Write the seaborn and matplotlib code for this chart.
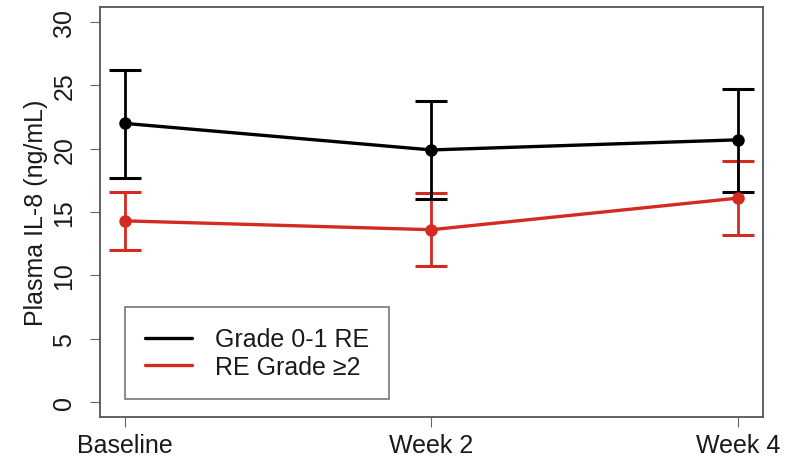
import numpy as np
import pandas as pd
import matplotlib
matplotlib.use("Agg")
import matplotlib.pyplot as plt
from matplotlib.lines import Line2D
import seaborn as sns

# values
timepoints = ["Baseline", "Week 2", "Week 4"]
groups = ["Grade 0-1 RE", "RE Grade \u22652"]

mean_low = [22.0, 19.9, 20.7]      # Grade 0-1 RE
upper_low = [26.2, 23.8, 24.7]
lower_low = [17.7, 16.0, 16.6]

mean_high = [14.3, 13.6, 16.1]     # RE Grade >=2
upper_high = [16.6, 16.5, 19.0]
lower_high = [12.0, 10.7, 13.2]

colors = {"Grade 0-1 RE": "black", "RE Grade \u22652": "#D42A20"}

sns.set_style("ticks")
plt.rcParams["font.family"] = ["Liberation Sans", "DejaVu Sans"]

pos = np.arange(1, len(timepoints) + 1)
data = pd.DataFrame({
    "x": np.concatenate([pos, pos]),
    "value": mean_low + mean_high,
    "group": [groups[0]] * 3 + [groups[1]] * 3,
})

fig = plt.figure(figsize=(7.87, 4.64), dpi=100)
ax = fig.add_axes([0.127, 0.099, 0.8425, 0.884])

err_sets = [(groups[1], mean_high, lower_high, upper_high),
            (groups[0], mean_low, lower_low, upper_low)]
for g, m, lo, hi in err_sets:
    m = np.array(m)
    ax.errorbar(pos, m, yerr=[m - np.array(lo), np.array(hi) - m], fmt="none",
                ecolor=colors[g], elinewidth=2.0, capsize=11.5, capthick=2.2,
                zorder=2)

sns.lineplot(data=data, x="x", y="value", hue="group", hue_order=groups[::-1],
             palette=colors, marker="o", markersize=9, markeredgewidth=0,
             linewidth=2.4, legend=False, ax=ax, zorder=3)

ax.set_xlim(0.92, 3.08)
ax.set_ylim(-1.2, 31.2)
ax.set_xticks(pos)
ax.set_xticklabels(timepoints)
ax.set_yticks(np.arange(0, 31, 5))
ax.set_xlabel("")
ax.set_ylabel("Plasma IL-8 (ng/mL)", fontsize=18, labelpad=3)

ax.tick_params(axis="both", labelsize=18, length=7, width=0.8, color="#666666",
               labelcolor="#1a1a1a")
ax.tick_params(axis="x", pad=4.5)
ax.tick_params(axis="y", pad=10, labelrotation=90)
for lab in ax.get_yticklabels():
    lab.set_va("center")
ax.yaxis.label.set_color("#1a1a1a")

for sp in ax.spines.values():
    sp.set_visible(True)
    sp.set_color("#555555")
    sp.set_linewidth(1.3)

handles = [Line2D([0], [0], color=colors[g], lw=2.4) for g in groups]
leg = ax.legend(handles, groups, loc="lower left",
                bbox_to_anchor=(0.0377, 0.044), borderaxespad=0,
                fontsize=18, handlelength=1.9, handletextpad=0.9,
                borderpad=0.8, labelspacing=0.15, fancybox=False,
                framealpha=1)
leg.get_frame().set_edgecolor("#777777")
leg.get_frame().set_linewidth(1.2)
for t in leg.get_texts():
    t.set_color("#1a1a1a")

fig.savefig("out.png", dpi=100)
